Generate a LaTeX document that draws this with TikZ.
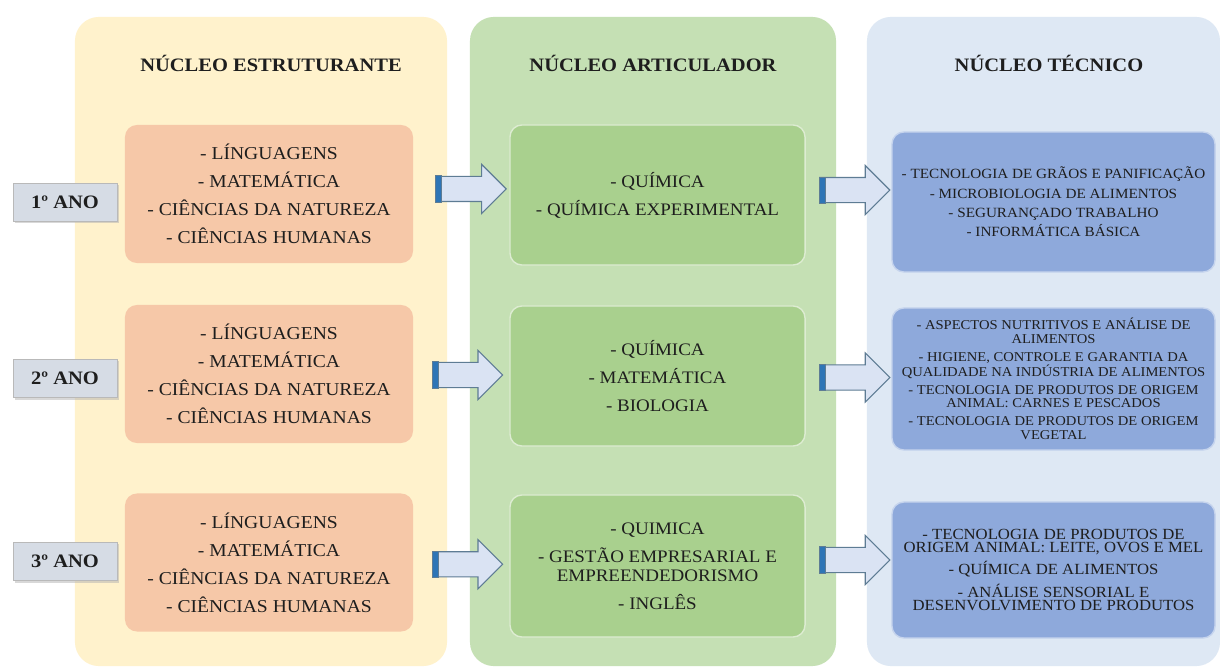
\documentclass[tikz,border=0pt]{standalone}
\usepackage{fontspec}
\setmainfont{Liberation Serif}[FakeStretch=1.08]
\usetikzlibrary{positioning,shapes.arrows,shadows,calc}

\definecolor{colyellow}{HTML}{FFF2CC}
\definecolor{colgreen}{HTML}{C5E0B4}
\definecolor{colblue}{HTML}{DEE8F4}
\definecolor{boxorange}{HTML}{F6C8A8}
\definecolor{boxgreen}{HTML}{A9D08E}
\definecolor{boxblue}{HTML}{8EA9DB}
\definecolor{yearfill}{HTML}{D6DCE5}
\definecolor{arrowfill}{HTML}{DAE3F3}
\definecolor{arrowline}{HTML}{5E7C94}
\definecolor{stripeblue}{HTML}{2E75B6}
\definecolor{textdark}{HTML}{1E1E1E}

\begin{document}
\begin{tikzpicture}[x=0.025cm, y=-0.025cm,
		nucleocol/.style={rounded corners=0.6cm, inner sep=0pt, minimum height=16.225cm},
		titulo/.style={font=\fontsize{13.5}{16}\selectfont\bfseries, text=textdark},
		caixa/.style={rounded corners=0.3cm, align=center, inner sep=2pt, text=textdark},
		orangebox/.style={caixa, fill=boxorange, minimum width=7.2cm, minimum height=3.45cm, font=\fontsize{12.9}{19.9}\selectfont},
		greenbox/.style={caixa, fill=boxgreen, draw=boxgreen!40!white, line width=1pt, minimum width=7.375cm, minimum height=3.5cm, font=\fontsize{12.5}{20}\selectfont},
		bluebox/.style={caixa, fill=boxblue, draw=boxblue!50!white, line width=1pt, minimum width=8.075cm},
		anobox/.style={fill=yearfill, draw=gray!55, minimum width=2.6cm, minimum height=0.95cm, font=\fontsize{13.5}{16}\selectfont\bfseries, text=textdark, drop shadow={shadow xshift=0.05cm, shadow yshift=-0.05cm, fill=black!30, opacity=0.5}},
		blockarrow/.style={single arrow, fill=arrowfill, draw=arrowline, line width=0.8pt, minimum height=1.75cm, minimum width=1.2cm, single arrow head extend=0.3cm, inner sep=0.3cm}
	]
			\useasboundingbox[fill=white] (0, 0) rectangle (1220, 668);

			%%draw the columns
			\node[nucleocol, fill=colyellow, minimum width=9.3cm] (colE) at (261, 341.5){};
			\node[nucleocol, fill=colgreen, minimum width=9.15cm] (colA) at (653, 341.5){};
			\node[nucleocol, fill=colblue, minimum width=8.825cm] (colT) at (1043.5, 341.5){};

			\node[titulo] (tE) at (271, 63){NÚCLEO ESTRUTURANTE};
			\node[titulo] (tA) at (653, 63){NÚCLEO ARTICULADOR};
			\node[titulo] (tT) at (1049, 63){NÚCLEO TÉCNICO};

			%%draw the years
			\node[anobox] (ano1) at (65, 202){1º ANO};
			\node[anobox] (ano2) at (65, 378.5){2º ANO};
			\node[anobox] (ano3) at (65, 561.5){3º ANO};

			%%núcleo estruturante
			\node[orangebox] (or1) at (269, 194){- LÍNGUAGENS\\- MATEMÁTICA\\- CIÊNCIAS DA NATUREZA\\- CIÊNCIAS HUMANAS};
			\node[orangebox] (or2) at (269, 374){- LÍNGUAGENS\\- MATEMÁTICA\\- CIÊNCIAS DA NATUREZA\\- CIÊNCIAS HUMANAS};
			\node[orangebox] (or3) at (269, 562.5){- LÍNGUAGENS\\- MATEMÁTICA\\- CIÊNCIAS DA NATUREZA\\- CIÊNCIAS HUMANAS};

			%%núcleo articulador
			\node[greenbox] (gr1) at (657.5, 195){- QUÍMICA\\- QUÍMICA EXPERIMENTAL};
			\node[greenbox] (gr2) at (657.5, 376){- QUÍMICA\\- MATEMÁTICA\\- BIOLOGIA};
			\node[greenbox, minimum height=3.55cm] (gr3) at (657.5, 566){- QUIMICA\\- GESTÃO EMPRESARIAL E\\[-6.5pt]EMPREENDEDORISMO\\- INGLÊS};

			%%núcleo técnico
			\node[bluebox, minimum height=3.5cm, font=\fontsize{10}{13.7}\selectfont] (bl1) at (1053.5, 202){- TECNOLOGIA DE GRÃOS E PANIFICAÇÃO\\- MICROBIOLOGIA DE ALIMENTOS\\- SEGURANÇADO TRABALHO\\- INFORMÁTICA BÁSICA};
			\node[bluebox, minimum height=3.55cm, font=\fontsize{9.6}{9.6}\selectfont] (bl2) at (1053.5, 379){- ASPECTOS NUTRITIVOS E ANÁLISE DE\\ALIMENTOS\\[3.2pt]- HIGIENE, CONTROLE E GARANTIA DA\\QUALIDADE NA INDÚSTRIA DE ALIMENTOS\\[3.2pt]- TECNOLOGIA DE PRODUTOS DE ORIGEM\\ANIMAL: CARNES E PESCADOS\\[3.2pt]- TECNOLOGIA DE PRODUTOS DE ORIGEM\\VEGETAL};
			\node[bluebox, minimum height=3.4cm, font=\fontsize{11}{9.5}\selectfont] (bl3) at (1053.5, 570){- TECNOLOGIA DE PRODUTOS DE\\ORIGEM ANIMAL: LEITE, OVOS E MEL\\[3.8pt]- QUÍMICA DE ALIMENTOS\\[3.8pt]- ANÁLISE SENSORIAL E\\DESENVOLVIMENTO DE PRODUTOS};

			%%draw the arrows
			\node[blockarrow, xshift=0.09cm, yshift=0.14cm] (al1) at ($(or1.east)!0.5!(gr1.west)$){};
			\node[blockarrow] (al2) at ($(or2.east)!0.5!(gr2.west)$){};
			\node[blockarrow] (al3) at ($(or3.east)!0.5!(gr3.west)$){};
			\node[blockarrow, yshift=0.21cm] (ar1) at ($(gr1.east)!0.5!(bl1.west)$){};
			\node[blockarrow] (ar2) at ($(gr2.east)!0.5!(bl2.west)$){};
			\node[blockarrow, yshift=0.2cm] (ar3) at ($(gr3.east)!0.5!(bl3.west)$){};
			\foreach \a in {al1, al2, al3, ar1, ar2, ar3}
				\filldraw[fill=stripeblue, draw=arrowline, line width=0.6pt] (\a.before tail) rectangle ($(\a.after tail)+(6, 0)$);
		\end{tikzpicture}
\end{document}
